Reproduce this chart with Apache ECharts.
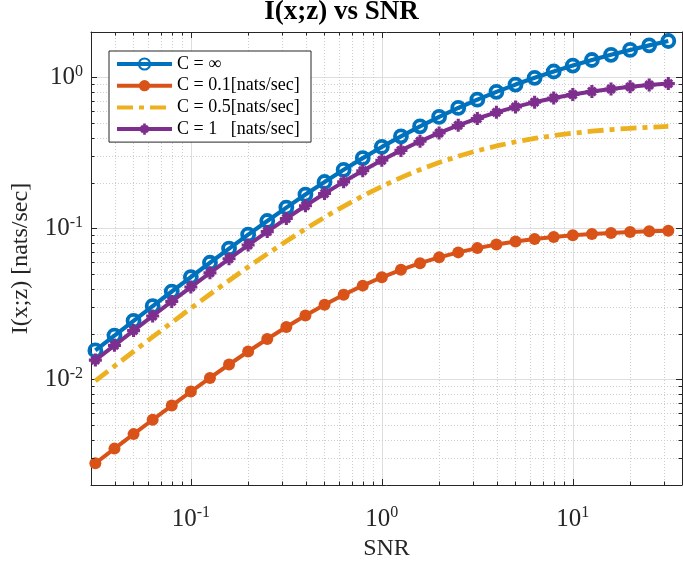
<!DOCTYPE html>
<html><head><meta charset="utf-8">
<script src="https://cdn.jsdelivr.net/npm/echarts@6/dist/echarts.min.js"></script>
<style>html,body{margin:0;padding:0;background:#fff}#c{width:683px;height:567px}</style>
</head><body><div id="c"></div>
<script>
// ---- data ----
const snr = [0.03162,0.03981,0.05012,0.06310,0.07943,0.1,0.1259,0.1585,0.1995,0.2512,0.3162,0.3981,0.5012,0.6310,0.7943,1,1.259,1.585,1.995,2.512,3.162,3.981,5.012,6.310,7.943,10,12.59,15.85,19.95,25.12,31.62];
const iInf = [0.01557,0.01952,0.02445,0.03059,0.03822,0.04766,0.05929,0.07356,0.09097,0.1120,0.1374,0.1676,0.2031,0.2446,0.2923,0.3466,0.4074,0.4748,0.5485,0.6281,0.7130,0.8028,0.8969,0.9946,1.095,1.199,1.305,1.412,1.521,1.631,1.743];
const iC01 = [0.002786,0.003483,0.004345,0.005408,0.006715,0.008309,0.01024,0.01256,0.01531,0.01854,0.02226,0.02650,0.03121,0.03635,0.04182,0.04750,0.05323,0.05891,0.06434,0.06943,0.07409,0.07826,0.08192,0.08508,0.08777,0.09004,0.09192,0.09347,0.09474,0.09578,0.09662];
const iC05 = [0.009784,0.01225,0.01532,0.01912,0.02382,0.02959,0.03665,0.04523,0.05555,0.06786,0.08236,0.09922,0.1185,0.1402,0.1641,0.1899,0.2171,0.2452,0.2733,0.3009,0.3272,0.3518,0.3743,0.3944,0.4121,0.4274,0.4405,0.4514,0.4606,0.4681,0.4743];
const iC1 = [0.01343,0.01683,0.02107,0.02634,0.03287,0.04093,0.05084,0.06295,0.07764,0.09533,0.1164,0.1413,0.1703,0.2036,0.2413,0.2831,0.3288,0.3777,0.4290,0.4818,0.5349,0.5873,0.6380,0.6859,0.7305,0.7710,0.8073,0.8393,0.8669,0.8906,0.9106];
const seriesNames = ['C = \u221E', 'C = 0.1[nats/sec]', 'C = 0.5[nats/sec]', 'C = 1   [nats/sec]'];
const xRange = [0.03, 37.3];
const yRange = [0.002, 2];
const xMinorTicks = [0.04,0.05,0.06,0.07,0.08,0.09,0.2,0.3,0.4,0.5,0.6,0.7,0.8,0.9,2,3,4,5,6,7,8,9,20,30];
const yMinorTicks = [0.003,0.004,0.005,0.006,0.007,0.008,0.009,0.02,0.03,0.04,0.05,0.06,0.07,0.08,0.09,0.2,0.3,0.4,0.5,0.6,0.7,0.8,0.9];
const titleText = 'I(x;z) vs SNR';
const xName = 'SNR';
const yName = 'I(x;z) [nats/sec]';

// ---- styling ----
const FONT = "'Liberation Serif','Times New Roman',serif";
const AX = '#262626';
const colors = ['#0072BD', '#D95319', '#EDB120', '#7E2F8E'];
const asterisk = 'path://M0 7.6L20 7.6L20 12.4L0 12.4Z M7.6 0L12.4 0L12.4 20L7.6 20Z M5.8 2.4L17.6 14.2L14.2 17.6L2.4 5.8Z M17.6 5.8L5.8 17.6L2.4 14.2L14.2 2.4Z';

const pairs = arr => snr.map((s, i) => [s, arr[i]]);
const powLabel = v => '{b|10}{s|' + Math.round(Math.log10(v)) + '}';
const rich = {
  b: {fontFamily: FONT, fontSize: 25, color: AX},
  s: {fontFamily: FONT, fontSize: 16, color: AX, padding: [0, 0, 12, 0]}
};

const chart = echarts.init(document.getElementById('c'), null, {renderer: 'canvas'});

const baseAxis = (extra) => Object.assign({
  type: 'log', logBase: 10,
  axisLine: {show: true, lineStyle: {color: AX, width: 1}},
  axisTick: {show: true, inside: true, length: 6, lineStyle: {color: AX, width: 1}},
  minorTick: {show: false},
  minorSplitLine: {show: false}
}, extra);

const option = {
  animation: false,
  backgroundColor: '#fff',
  title: {
    text: titleText, left: 'center', top: -1, padding: [0, 0, 0, 91],
    textStyle: {fontFamily: FONT, fontSize: 27, fontWeight: 'bold', color: '#000'}
  },
  grid: {left: 91, right: 1, top: 32, bottom: 82, containLabel: false},
  legend: {
    orient: 'vertical', left: 109, top: 51, padding: [3, 6, 3, 6],
    itemWidth: 55, itemHeight: 14, itemGap: 1.7,
    backgroundColor: '#fff', borderColor: AX, borderWidth: 1, borderRadius: 0,
    selectedMode: false,
    lineStyle: {width: 4},
    textStyle: {fontFamily: FONT, fontSize: 18, color: '#000', lineHeight: 20, width: 128},
    data: seriesNames
  },
  xAxis: [
    baseAxis({
      min: xRange[0], max: xRange[1], position: 'bottom',
      splitLine: {show: true, lineStyle: {color: '#dedede', width: 1}},
      axisLabel: {show: true, margin: 20, interval: 0, showMinLabel: false, showMaxLabel: false, formatter: powLabel, rich: rich},
      name: xName, nameLocation: 'middle', nameGap: 50,
      nameTextStyle: {fontFamily: FONT, fontSize: 24, color: AX}
    }),
    baseAxis({
      min: xRange[0], max: xRange[1], position: 'top',
      splitLine: {show: false}, axisLabel: {show: false}
    })
  ],
  yAxis: [
    baseAxis({
      min: yRange[0], max: yRange[1], position: 'left',
      splitLine: {show: true, lineStyle: {color: '#dedede', width: 1}},
      axisLabel: {show: true, margin: 8, interval: 0, showMinLabel: false, showMaxLabel: false, formatter: powLabel, rich: rich},
      name: yName, nameLocation: 'middle', nameGap: 58, nameRotate: 90,
      nameTextStyle: {fontFamily: FONT, fontSize: 24, color: AX}
    }),
    baseAxis({
      min: yRange[0], max: yRange[1], position: 'right',
      splitLine: {show: false}, axisLabel: {show: false}
    })
  ],
  series: [
    {
      name: seriesNames[0], type: 'line', data: pairs(iInf), z: 3,
      symbol: 'circle', symbolSize: 12, showSymbol: true,
      lineStyle: {color: colors[0], width: 4.2},
      itemStyle: {color: 'rgba(255,255,255,0)', borderColor: colors[0], borderWidth: 3.8}
    },
    {
      name: seriesNames[1], type: 'line', data: pairs(iC01), z: 4,
      symbol: 'circle', symbolSize: 12,
      lineStyle: {color: colors[1], width: 4},
      itemStyle: {color: colors[1], borderWidth: 0}
    },
    {
      name: seriesNames[2], type: 'line', data: pairs(iC05), z: 5,
      symbol: 'none',
      lineStyle: {color: colors[2], width: 4.8, type: [16, 6, 5, 6]},
      itemStyle: {color: colors[2], opacity: 0}
    },
    {
      name: seriesNames[3], type: 'line', data: pairs(iC1), z: 6,
      symbol: asterisk, symbolSize: 13,
      lineStyle: {color: colors[3], width: 4},
      itemStyle: {color: colors[3], borderWidth: 0}
    }
  ]
};
chart.setOption(option);

// minor ticks and minor dotted grid, positioned through the axes' own scales
(function () {
  const px = v => chart.convertToPixel({xAxisIndex: 0}, v);
  const py = v => chart.convertToPixel({yAxisIndex: 0}, v);
  const L = px(xRange[0]), R = px(xRange[1]), T = py(yRange[1]), B = py(yRange[0]);
  const els = [];
  const gridStyle = {stroke: '#cdcdcd', lineWidth: 1, lineDash: [1, 2]};
  const tickStyle = {stroke: AX, lineWidth: 1};
  const ML = 3.5;
  xMinorTicks.forEach(v => {
    const x = Math.round(px(v)) + 0.5;
    els.push({type: 'line', silent: true, z: 1, shape: {x1: x, y1: T, x2: x, y2: B}, style: gridStyle});
    els.push({type: 'line', silent: true, z: 10, shape: {x1: x, y1: B, x2: x, y2: B - ML}, style: tickStyle});
    els.push({type: 'line', silent: true, z: 10, shape: {x1: x, y1: T, x2: x, y2: T + ML}, style: tickStyle});
  });
  yMinorTicks.forEach(v => {
    const y = Math.round(py(v)) + 0.5;
    els.push({type: 'line', silent: true, z: 1, shape: {x1: L, y1: y, x2: R, y2: y}, style: gridStyle});
    els.push({type: 'line', silent: true, z: 10, shape: {x1: L, y1: y, x2: L + ML, y2: y}, style: tickStyle});
    els.push({type: 'line', silent: true, z: 10, shape: {x1: R, y1: y, x2: R - ML, y2: y}, style: tickStyle});
  });
  chart.setOption({graphic: els});
})();
</script>
</body></html>
